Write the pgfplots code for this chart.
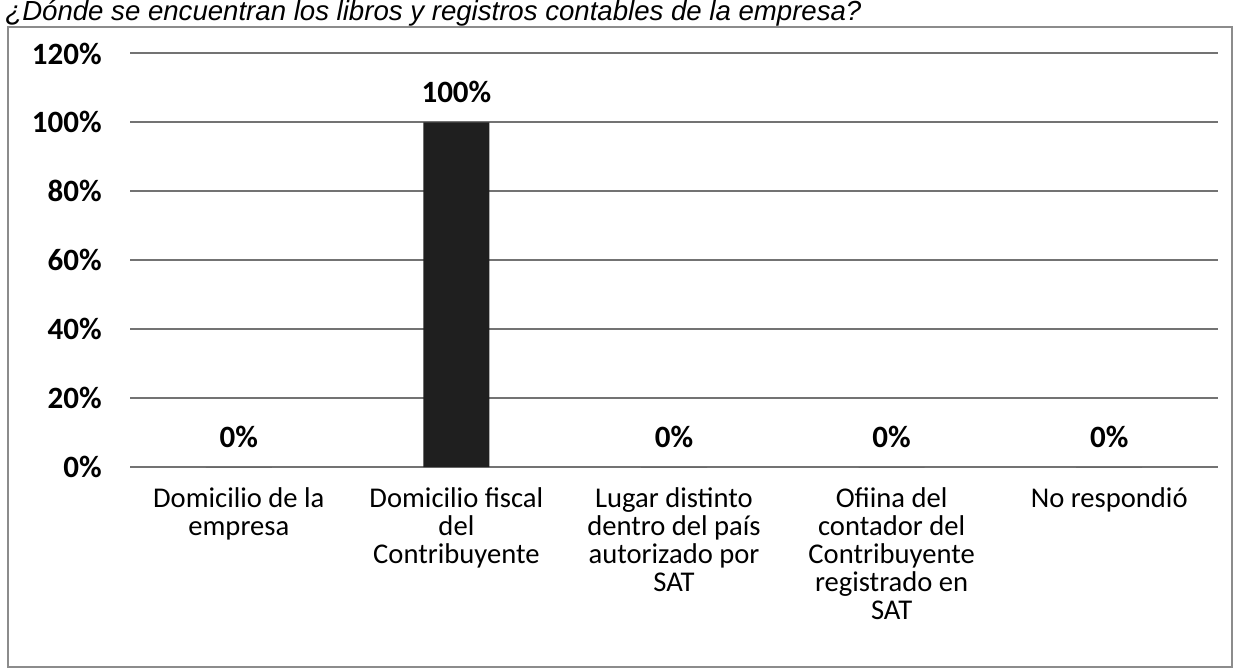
\documentclass[border=0pt]{standalone}
\usepackage{fontspec}
\setmainfont{Carlito}
\newfontfamily\titlefont{Liberation Sans}
\usepackage{pgfplots}
\pgfplotsset{compat=1.18}

\begin{document}
\begin{tikzpicture}
% picture area: 1245x670 px at 0.5pt per px
\path[use as bounding box, clip] (0,0) rectangle (622.5pt,335pt);
\draw[black!45, line width=1pt] (4pt,1.5pt) rectangle (616pt,321.5pt);
\node[anchor=base west, inner sep=0pt,
      font=\titlefont\itshape\fontsize{13.8}{16}\selectfont]
  at (2.5pt,324.5pt) {¿Dónde se encuentran los libros y registros contables de la empresa?};
\begin{axis}[
    at={(65pt,101.5pt)}, anchor=south west,
    scale only axis, width=544pt, height=206.75pt,
    ybar, bar width=33pt,
    xmin=-0.5, xmax=4.5, ymin=0, ymax=120,
    /pgf/number format/assume math mode=true,
    axis line style={draw=none},
    major tick length=0pt,
    ymajorgrids, grid style={black!55, line width=1pt},
    ytick={0,20,40,60,80,100,120},
    yticklabels={0\%,20\%,40\%,60\%,80\%,100\%,120\%},
    yticklabel style={font=\bfseries\fontsize{15.5}{15}\selectfont, anchor=east, inner sep=0pt, xshift=-14pt},
    xtick={0,1,2,3,4},
    xticklabels={
      {Domicilio de la\\empresa},
      {Domicilio fiscal\\del\\Contribuyente},
      {Lugar distinto\\dentro del país\\autorizado por\\SAT},
      {Ofiina del\\contador del\\Contribuyente\\registrado en\\SAT},
      {No respondió}},
    xticklabel style={font=\fontsize{14.3}{14}\selectfont, align=center, anchor=north, inner sep=0pt, yshift=-10pt},
    nodes near coords={\pgfmathprintnumber{\pgfplotspointmeta}\%},
    every node near coord/.append style={font=\bfseries\fontsize{15.5}{15}\selectfont, anchor=base, inner sep=0pt, yshift=10pt},
]
\addplot[fill=black!88, draw=none] coordinates {(0,0) (1,100) (2,0) (3,0) (4,0)};
\end{axis}
\end{tikzpicture}
\end{document}
